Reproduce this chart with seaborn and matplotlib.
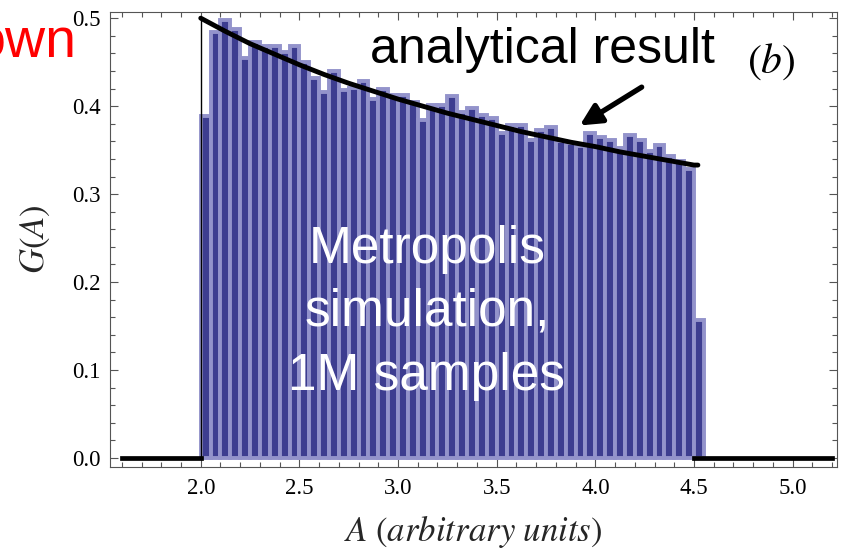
import matplotlib
matplotlib.use("Agg")
import numpy as np
import pandas as pd
import matplotlib.pyplot as plt
from matplotlib.ticker import MultipleLocator
import seaborn as sns

# histogram of the Metropolis run, bins of width 0.05 starting at A = 2.0
bin_start = 2.0
bin_width = 0.05
bin_heights = [0.389, 0.484, 0.498, 0.488, 0.455, 0.473, 0.468, 0.468, 0.462, 0.468,
               0.450, 0.432, 0.416, 0.440, 0.418, 0.421, 0.429, 0.408, 0.420, 0.413,
               0.413, 0.405, 0.384, 0.401, 0.401, 0.411, 0.393, 0.398, 0.390, 0.387,
               0.369, 0.379, 0.379, 0.361, 0.373, 0.376, 0.360, 0.358, 0.355, 0.370,
               0.365, 0.361, 0.352, 0.367, 0.362, 0.349, 0.356, 0.343, 0.338, 0.328,
               0.157]

# analytical curve
curve_A = [2.0, 2.125, 2.25, 2.375, 2.5, 2.625, 2.75, 2.875, 3.0, 3.125, 3.25,
           3.375, 3.5, 3.625, 3.75, 3.875, 4.0, 4.125, 4.25, 4.375, 4.5, 4.52]
curve_G = [0.500, 0.485, 0.471, 0.459, 0.447, 0.436, 0.426, 0.417, 0.408, 0.400, 0.392,
           0.385, 0.378, 0.371, 0.365, 0.359, 0.354, 0.348, 0.343, 0.338, 0.333, 0.333]

# zero parts of the analytical result
zero_left_A = [1.6, 2.0]
zero_right_A = [4.5, 5.2]
zero_G = [0.0, 0.0]

x_major = [2.0, 2.5, 3.0, 3.5, 4.0, 4.5, 5.0]
y_major = [0.0, 0.1, 0.2, 0.3, 0.4, 0.5]

n = len(bin_heights)
edges = [round(bin_start + bin_width * i, 3) for i in range(n + 1)]
hist_df = pd.DataFrame({"A": [e + bin_width / 2 for e in edges[:-1]], "G": bin_heights})

sns.set_style("ticks")
plt.rcParams["font.family"] = ["Liberation Serif", "DejaVu Serif"]
plt.rcParams["mathtext.fontset"] = "stix"

W, H = 850, 551
fig = plt.figure(figsize=(W / 100, H / 100), dpi=100)
ax = fig.add_axes([110 / W, 1 - 467 / H, 727 / W, 455 / H])


def fx(px):
    return px / W


def fy(py):
    return 1 - py / H


sns.histplot(data=hist_df, x="A", weights="G", bins=edges, color="#3d3d90",
             edgecolor="#9393cb", linewidth=2.8, alpha=1.0, ax=ax, zorder=2)

sns.lineplot(x=curve_A, y=curve_G, color="black", linewidth=3.5, ax=ax, zorder=4,
             estimator=None, sort=False)
for xs in (zero_left_A, zero_right_A):
    ax.plot(xs, zero_G, color="black", linewidth=3.4, solid_capstyle="projecting", zorder=4)
ax.plot([2.0, 2.0], [0.0, 0.5], color="black", linewidth=1.0, zorder=4)

ax.set_xlim(1.54, 5.225)
ax.set_ylim(-0.0102, 0.507)
ax.set_xticks(x_major)
ax.set_yticks(y_major)
ax.xaxis.set_minor_locator(MultipleLocator(0.1))
ax.yaxis.set_minor_locator(MultipleLocator(0.02))
ax.tick_params(which="both", direction="in", top=True, right=True, color="#555555",
               width=0.8, labelsize=16.5, labelcolor="black")
ax.tick_params(which="major", length=6)
ax.tick_params(which="minor", length=3.5)
ax.tick_params(axis="x", pad=8)
ax.tick_params(axis="y", pad=7)
for sp in ax.spines.values():
    sp.set_visible(True)
    sp.set_color("#555555")
    sp.set_linewidth(0.8)

ax.set_xlabel(r"$A\ (arbitrary\ units)$", fontsize=25, labelpad=11)
ax.set_ylabel(r"$G(A)$", fontsize=25, labelpad=14)

ax.annotate("", xy=(3.921, 0.378), xytext=(4.235, 0.4216),
            arrowprops=dict(arrowstyle="-|>", lw=3.8, color="black",
                            mutation_scale=32, shrinkA=0, shrinkB=0), zorder=5)

fig.text(fx(77), fy(58), "own", color="red", fontsize=40, family="Liberation Sans",
         ha="right", va="baseline")
fig.text(fx(370), fy(63), "analytical result", color="black", fontsize=36,
         family="Liberation Sans", ha="left", va="baseline")
fig.text(fx(747), fy(73), r"$(b)$", color="black", fontsize=30, ha="left", va="baseline")

for label, base in (("Metropolis", 263), ("simulation,", 326), ("1M samples", 390)):
    fig.text(fx(427), fy(base), label, color="white", fontsize=37,
             family="Liberation Sans", ha="center", va="baseline", zorder=6)

fig.savefig("out.png", dpi=100)
